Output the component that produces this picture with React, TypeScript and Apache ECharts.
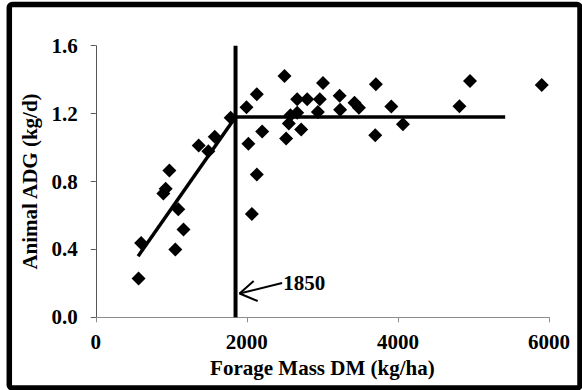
import React, { useEffect, useRef } from "react";
import * as echarts from "echarts";

const forageMass = [566, 600, 895, 925, 974, 1053, 1092, 1161, 1362, 1490, 1575, 1786, 1995, 2020, 2066, 2132, 2132, 2203, 2498, 2520, 2555, 2577, 2666, 2666, 2719, 2799, 2940, 2966, 3008, 3228, 3235, 3425, 3484, 3700, 3708, 3912, 4066, 4814, 4954, 5904];
const adg = [0.228, 0.438, 0.729, 0.757, 0.865, 0.399, 0.637, 0.517, 1.012, 0.978, 1.063, 1.176, 1.238, 1.022, 0.609, 1.314, 0.841, 1.095, 1.421, 1.054, 1.142, 1.191, 1.205, 1.284, 1.107, 1.284, 1.21, 1.284, 1.38, 1.305, 1.223, 1.264, 1.235, 1.073, 1.373, 1.242, 1.137, 1.244, 1.392, 1.368];

const breakPoint = 1850;
const plateau = 1.18;
const risingLine: [number, number][] = [[560, 0.36], [breakPoint, plateau]];
const plateauLine: [number, number][] = [[breakPoint, plateau], [5420, plateau]];
const breakLine: [number, number][] = [[breakPoint, 0], [breakPoint, 1.6]];
const arrowShaft: [number, number][] = [[2467, 0.202], [1904, 0.14]];
const arrowHead: [number, number][] = [[2090, 0.214], [1904, 0.14], [2143, 0.096]];
const annotationText = "1850";

const xTicks = { min: 0, max: 6000, interval: 2000 };
const yTicks = { min: 0, max: 1.6, interval: 0.4 };

const FONT = "'Liberation Serif', 'Times New Roman', serif";

export default function App() {
  const ref = useRef<HTMLDivElement>(null);
  useEffect(() => {
    document.body.style.margin = "0";
    const chart = echarts.init(ref.current!, null, { renderer: "svg" });
    const axisText = { fontFamily: FONT, fontWeight: "bold", fontSize: 21, color: "#000" };
    const lineSeries = (data: [number, number][], width: number) => ({
      type: "line",
      data,
      symbol: "none",
      lineStyle: { color: "#000", width, cap: "butt", opacity: 1 },
      silent: true,
      z: 2,
    });
    chart.setOption({
      animation: false,
      backgroundColor: "#fff",
      grid: { left: 95.8, right: 33, top: 45.7, bottom: 72.7, containLabel: false },
      xAxis: {
        type: "value",
        ...xTicks,
        name: "Forage Mass DM (kg/ha)",
        nameLocation: "middle",
        nameGap: 36,
        nameTextStyle: axisText,
        axisLine: { show: true, lineStyle: { color: "#8c8c8c", width: 1 } },
        axisTick: { show: true, length: 5, lineStyle: { color: "#8c8c8c" } },
        axisLabel: { ...axisText, margin: 14, formatter: (v: number) => String(v) },
        splitLine: { show: false },
      },
      yAxis: {
        type: "value",
        ...yTicks,
        name: "Animal ADG (kg/d)",
        nameLocation: "middle",
        nameGap: 52,
        nameTextStyle: axisText,
        axisLine: { show: true, lineStyle: { color: "#555", width: 1 } },
        axisTick: { show: true, length: 5, lineStyle: { color: "#555" } },
        axisLabel: { ...axisText, margin: 18, formatter: (v: number) => v.toFixed(1) },
        splitLine: { show: false },
      },
      graphic: [
        {
          type: "rect",
          shape: { x: 9.3, y: 4.5, width: 570.7, height: 383.5, r: 3 },
          style: { fill: "none", stroke: "#000", lineWidth: 5.5 },
          silent: true,
          z: 100,
        },
      ],
      series: [
        lineSeries(risingLine, 3.5),
        lineSeries(plateauLine, 3.5),
        lineSeries(breakLine, 4),
        lineSeries(arrowShaft, 2),
        lineSeries(arrowHead, 2),
        {
          type: "scatter",
          data: [arrowShaft[0]],
          symbolSize: 0,
          silent: true,
          itemStyle: { opacity: 1, color: "#000" },
          label: {
            show: true,
            position: "right",
            distance: 1,
            formatter: annotationText,
            ...axisText,
          },
          z: 3,
        },
        {
          type: "scatter",
          data: forageMass.map((x, i) => [x, adg[i]]),
          symbol: "diamond",
          symbolSize: 14,
          itemStyle: { color: "#000", opacity: 1 },
          z: 4,
        },
      ],
    });
    return () => chart.dispose();
  }, []);
  return <div ref={ref} style={{ position: "fixed", left: 0, top: 0, width: 582, height: 390 }} />;
}
